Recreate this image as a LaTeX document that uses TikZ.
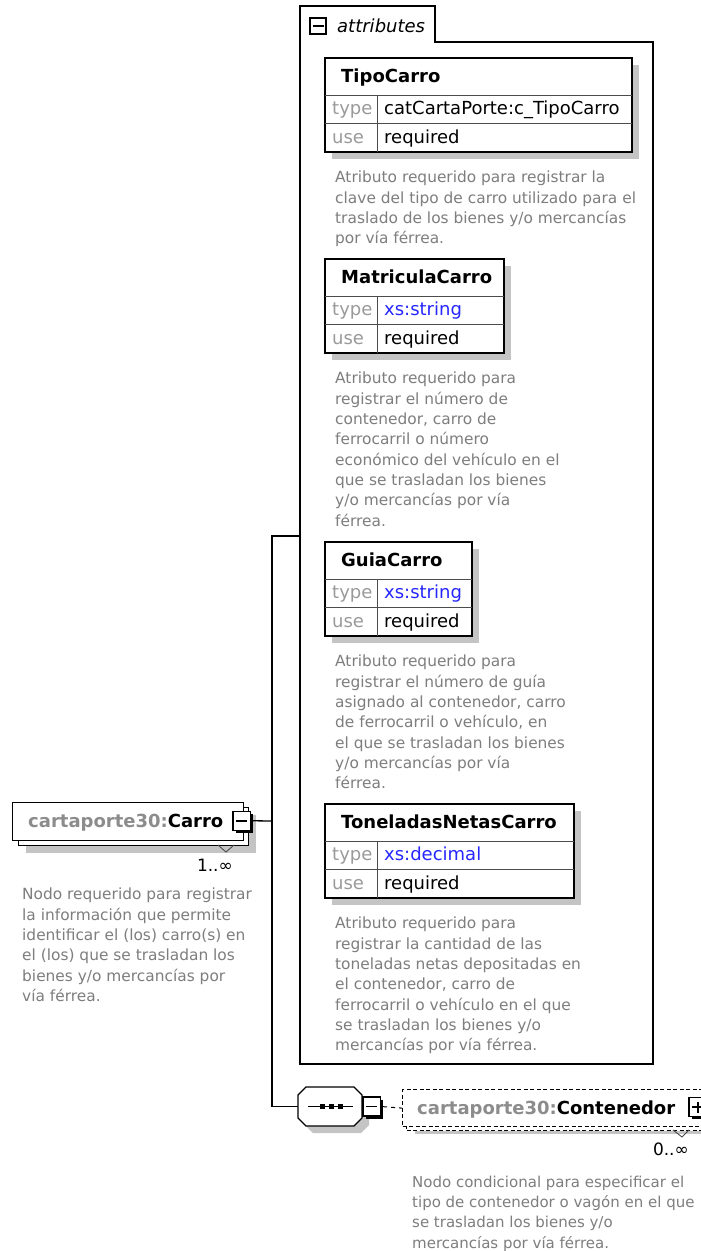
\documentclass[tikz,border=0pt]{standalone}
\usepackage{fontspec}
\setmainfont{DejaVu Sans}
\usetikzlibrary{shadows}
\definecolor{notegray}{HTML}{7E7E7E}
\definecolor{keygray}{HTML}{9A9A9A}
\definecolor{prefixgray}{HTML}{8C8C8C}
\definecolor{typeblue}{HTML}{2626FF}
\definecolor{shadegray}{HTML}{C4C4C4}

\begin{document}
\begin{tikzpicture}[x=1pt,y=-1pt,
    wire/.style  = {draw=black,line width=1.3pt},
    frame/.style = {draw=black,line width=1.8pt,fill=white},
    grid/.style  = {draw=black!70,line width=0.9pt},
    shade/.style = {fill=shadegray,draw=none},
    elem/.style  = {rectangle,draw=black,line width=1.4pt,fill=white,minimum height=38pt,anchor=north west,inner sep=0pt},
    optline/.style = {line width=1.2pt,dash pattern=on 4pt off 2.5pt},
    btn/.style   = {rectangle,draw=black,line width=1.2pt,fill=white,minimum width=17.5pt,minimum height=19pt,inner sep=0pt,
                    drop shadow={shadow xshift=2.5pt,shadow yshift=-2.5pt,fill=black,opacity=1}},
    minus/.style = {path picture={\draw[line width=1.5pt] ([xshift=-5.5pt]path picture bounding box.center) -- ([xshift=5.5pt]path picture bounding box.center);}},
    plus/.style  = {path picture={\draw[line width=1.5pt] ([xshift=-5.5pt]path picture bounding box.center) -- ([xshift=5.5pt]path picture bounding box.center)
                    ([yshift=-5.5pt]path picture bounding box.center) -- ([yshift=5.5pt]path picture bounding box.center);}},
    lbl/.style   = {inner sep=0pt,anchor=base west,font=\fontsize{18}{20}\selectfont},
    head/.style  = {inner sep=0pt,anchor=base west,font=\fontsize{18}{20}\selectfont\bfseries},
    mult/.style  = {inner sep=0pt,anchor=base east,font=\fontsize{17}{20}\selectfont},
    note/.style  = {inner sep=0pt,anchor=north west,align=left,text=notegray,font=\fontsize{15.4}{20.3}\selectfont}]
\path[use as bounding box,fill=white] (0,0) rectangle (701,1251);

% attributes group
\draw[wire,line width=1.2pt] (300,1064) -- (300,6) -- (435,6) -- (435,42) -- (653,42) -- (653,1064) -- cycle;
\node[rectangle,draw=black,line width=1.8pt,minimum size=16.5pt,inner sep=0pt,minus] (attrbtn) at (318,26) {};
\node[lbl,font=\fontsize{18}{20}\selectfont\itshape] (attrlbl) at (337,32) {attributes};
\coordinate (attrjoin) at (300,536);

\foreach \n/\yy/\xx/\typ/\col/\txt in {
    TipoCarro/58/632/{catCartaPorte:c\_TipoCarro}/black/{Atributo requerido para registrar la\\clave del tipo de carro utilizado para el\\traslado de los bienes y/o mercancías\\por vía férrea.},
    MatriculaCarro/259/504/{xs:string}/typeblue/{Atributo requerido para\\registrar el número de\\contenedor, carro de\\ferrocarril o número\\económico del vehículo en el\\que se trasladan los bienes\\y/o mercancías por vía\\férrea.},
    GuiaCarro/542/472/{xs:string}/typeblue/{Atributo requerido para\\registrar el número de guía\\asignado al contenedor, carro\\de ferrocarril o vehículo, en\\el que se trasladan los bienes\\y/o mercancías por vía\\férrea.},
    ToneladasNetasCarro/804/574/{xs:decimal}/typeblue/{Atributo requerido para\\registrar la cantidad de las\\toneladas netas depositadas en\\el contenedor, carro de\\ferrocarril o vehículo en el que\\se trasladan los bienes y/o\\mercancías por vía férrea.}} {
    \fill[shade] (332,\yy+7) rectangle (\xx+7,\yy+101);
    \draw[frame] (325,\yy) rectangle (\xx,\yy+94);
    \draw[grid] (325,\yy+37) -- (\xx,\yy+37) (325,\yy+65) -- (\xx,\yy+65) (377,\yy+37) -- (377,\yy+94);
    \node[head] (\n) at (341,\yy+24.5) {\n};
    \node[lbl,text=keygray] (\n-typekey) at (332,\yy+56) {type};
    \node[lbl,text=\col] (\n-type) at (384,\yy+56) {\typ};
    \node[lbl,text=keygray] (\n-usekey) at (332,\yy+85) {use};
    \node[lbl] (\n-use) at (384,\yy+85) {required};
    \node[note] (\n-note) at (335,\yy+113) {\txt};
}

% Carro element
\node[elem,minimum width=230pt,drop shadow={shadow xshift=7pt,shadow yshift=-7pt,fill=shadegray,opacity=1}] (carroback) at (18,807) {};
\node[elem,minimum width=231pt] (carro) at (12,802) {};
\node[head] (carrolbl) at (28,827) {\textcolor{prefixgray}{cartaporte30:}Carro};
\node[btn,minus] (carrobtn) at (241.75,820.75) {};
\draw[grid] (218,845) -- (226,852) -- (234,845);
\node[mult] (carromult) at (233,871) {1..∞};
\node[note] (carronote) at (22,888) {Nodo requerido para registrar\\la información que permite\\identificar el (los) carro(s) en\\el (los) que se trasladan los\\bienes y/o mercancías por\\vía férrea.};

% sequence
\fill[shade,shift={(7,7)}] (306,1087) -- (354,1087) -- (362,1095) -- (362,1118) -- (354,1126) -- (306,1126) -- (298,1118) -- (298,1095) -- cycle;
\draw[wire,fill=white] (306,1087) -- (354,1087) -- (362,1095) -- (362,1118) -- (354,1126) -- (306,1126) -- (298,1118) -- (298,1095) -- cycle;
\node[inner sep=0pt,minimum width=64pt,minimum height=39pt] (seq) at (330,1106.5) {};
\draw[wire] (308,1106.5) -- (353,1106.5);
\foreach \x in {322,331,340}
    \fill (\x-2.5,1104) rectangle ++(5,5);
\node[btn,minus] (seqbtn) at (371.75,1106.5) {};

% Contenedor element
\node[elem,optline,minimum width=330pt,minimum height=37pt,drop shadow={shadow xshift=8pt,shadow yshift=-3.5pt,fill=shadegray,opacity=1}] (contback) at (406,1093) {};
\node[elem,optline,minimum width=330pt,minimum height=37pt] (cont) at (402,1089) {};
\node[head] (contlbl) at (417,1114) {\textcolor{prefixgray}{cartaporte30:}Contenedor};
\node[btn,plus] (contbtn) at (697.75,1107) {};
\draw[grid] (673,1130) -- (682,1137) -- (689,1130);
\node[mult] (contmult) at (689,1155) {0..∞};
\node[note,font=\fontsize{15}{20.3}\selectfont] (contnote) at (412,1175.5) {Nodo condicional para especificar el\\tipo de contenedor o vagón en el que\\se trasladan los bienes y/o\\mercancías por vía férrea.};

% connectors
\coordinate (fork) at (272,821);
\draw[wire] (carrobtn.east) -- (fork);
\draw[wire] (attrjoin) -| (fork) |- (seq.west);
\draw[wire,line width=1pt,dash pattern=on 4pt off 4pt,dash phase=6pt] (seqbtn.east) -- (cont.west);
\end{tikzpicture}
\end{document}
